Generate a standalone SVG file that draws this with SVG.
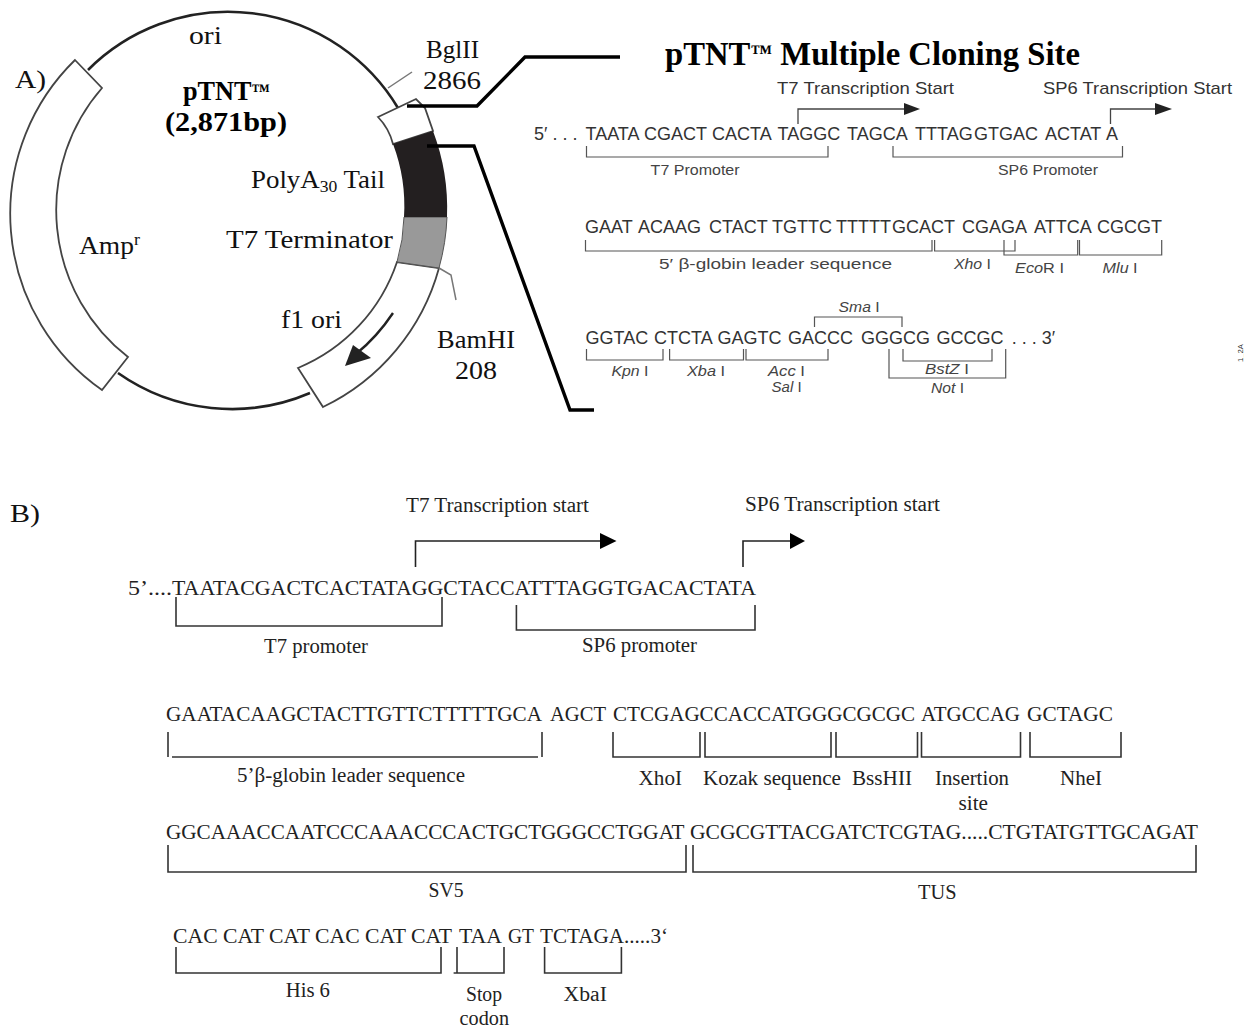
<svg xmlns="http://www.w3.org/2000/svg" width="1244" height="1028" viewBox="0 0 1244 1028">
<style>
text{white-space:pre}
.c{font-family:"Liberation Serif",serif;font-size:26px;fill:#111}
.b{font-weight:bold;font-size:27px;fill:#000}
.h{font-family:"Liberation Sans",Arial,sans-serif;font-size:17px;fill:#333}
.sq{font-size:18px}
.hs{font-size:15.5px;fill:#444}
.i{font-style:italic}
.t{font-family:"Liberation Serif",serif;font-size:21px;fill:#222}
.tl{font-size:20px}
.seg{fill:#fff;stroke:#444;stroke-width:1.8}
.bk{fill:none;stroke:#222;stroke-width:2.6}
.thin{fill:none;stroke:#777;stroke-width:1.5}
.call{fill:none;stroke:#000;stroke-width:3.4}
.br{fill:none;stroke:#555;stroke-width:1.2}
.brb{fill:none;stroke:#333;stroke-width:1.6}
.ar{fill:none;stroke:#444;stroke-width:1.3}
.arb{fill:none;stroke:#222;stroke-width:1.6}
</style>
<rect width="1244" height="1028" fill="#fff"/>
<g id="plasmid">
<g id="backbone">
<path class="bk" d="M88,70 A198 198 0 0 1 398,108"/>
<path class="bk" d="M118,373 A198 198 0 0 0 310,393"/>
</g>
<g id="amp"><path class="seg" d="M75,60 L102,88 A186 186 0 0 0 128,357 L102,390 A215 215 0 0 1 75,60 Z"/></g>
<g id="f1ori"><path class="seg" d="M397,262 A175 175 0 0 1 298,368 L323,407 A218 218 0 0 0 439,268 Z"/>
<path d="M393,313 Q377,337 356,354" fill="none" stroke="#222" stroke-width="2.4"/>
<polygon points="345,366 353,345 371,358" fill="#222"/></g>
<g id="t7term"><path d="M404,217 H447 A218 218 0 0 1 439,268 L397,262 A175 175 0 0 0 404,217 Z" fill="#999" stroke="#555" stroke-width="1"/></g>
<g id="mcs"><path class="seg" d="M378,117 L416,99 L425,108 L433,131 L393,144 A60 60 0 0 0 378,117 Z"/></g>
<g id="polya"><path d="M393,144 L433,131 A218 218 0 0 1 447,217 H404 A175 175 0 0 0 393,144 Z" fill="#231f20"/></g>
<path class="thin" d="M388,88 L412,72"/>
<path class="thin" d="M439,268 L451,275 L456,300"/>
</g>
<g id="plasmid-labels">
<text class="c" x="15" y="88" textLength="31" lengthAdjust="spacingAndGlyphs">A)</text>
<text class="c" x="189" y="44" textLength="33" lengthAdjust="spacingAndGlyphs">ori</text>
<text class="c" x="426" y="58" textLength="53" lengthAdjust="spacingAndGlyphs">BglII</text>
<text class="c" x="423" y="89" textLength="58" lengthAdjust="spacingAndGlyphs">2866</text>
<text class="c b" x="183" y="100" textLength="87" lengthAdjust="spacingAndGlyphs">pTNT<tspan font-size="19" dy="-3">™</tspan></text>
<text class="c b" x="165" y="131" textLength="122" lengthAdjust="spacingAndGlyphs">(2,871bp)</text>
<text class="c" x="251" y="188" textLength="134" lengthAdjust="spacingAndGlyphs">PolyA<tspan font-size="17" dy="4">30</tspan><tspan dy="-4"> Tail</tspan></text>
<text class="c" x="226" y="248" textLength="167" lengthAdjust="spacingAndGlyphs">T7 Terminator</text>
<text class="c" x="79" y="254" textLength="61" lengthAdjust="spacingAndGlyphs">Amp<tspan font-size="17" dy="-9">r</tspan></text>
<text class="c" x="281" y="328" textLength="61" lengthAdjust="spacingAndGlyphs">f1 ori</text>
<text class="c" x="437" y="348" textLength="78" lengthAdjust="spacingAndGlyphs">BamHI</text>
<text class="c" x="455" y="379" textLength="42" lengthAdjust="spacingAndGlyphs">208</text>
</g>
<g id="connectors">
<path class="call" d="M407,106 H477 L525,57 H620"/>
<path class="call" d="M427,146 H474 L570,410 H594"/>
<g id="mcs-connectors">
<path class="ar" d="M798,124 V109 H905"/><polygon points="920,109 904,103 904,115" fill="#222"/>
<path class="ar" d="M1110.5,124 V109 H1156"/><polygon points="1172,109 1155,103 1155,115" fill="#222"/>
<path class="br" d="M586.5,146 V157 H828 V146"/>
<path class="br" d="M893,146 V157 H1122.5 V146"/>
<path class="br" d="M585.5,240 V251 H932 V240"/>
<path class="br" d="M934.6,240 V251 H1015 V240"/>
<path class="br" d="M1004,240 V255 H1077.7 V240"/>
<path class="br" d="M1079.5,240 V255 H1161.7 V240"/>
<path class="br" d="M814.5,327 V317 H902 V327"/>
<path class="br" d="M586.5,349 V360 H663 V349"/>
<path class="br" d="M669.6,349 V360 H743.5 V349"/>
<path class="br" d="M746,349 V360 H828 V349"/>
<path class="br" d="M903,349 V361 H992 V349"/>
<path class="br" d="M889,349 V378 H1005.7 V349"/>
</g>
<g id="b-connectors">
<path class="arb" d="M415.5,567 V541 H601"/><polygon points="616.5,541 600,533 600,549" fill="#000"/>
<path class="arb" d="M743,567 V541 H791"/><polygon points="805,541 790,533 790,549" fill="#000"/>
<path class="brb" d="M176,597 V626 H442 V597"/>
<path class="brb" d="M516.4,605 V630 H755 V605"/>
<path class="brb" d="M168,732 V757 M172,757 H538 M542,732 V757"/>
<path class="brb" d="M613,732 V757 H700 V732"/>
<path class="brb" d="M705,732 V757 H831 V732"/>
<path class="brb" d="M836,732 V757 H917.5 V732"/>
<path class="brb" d="M921.5,732 V757 H1020.5 V732"/>
<path class="brb" d="M1030,732 V757 H1121 V732"/>
<path class="brb" d="M168,845 V872 H686 V845"/>
<path class="brb" d="M693,845 V872 H1196 V845"/>
<path class="brb" d="M176,947 V973 H441 V947"/>
<path class="brb" d="M457,947 V973 M453.6,973 H504 V947"/>
<path class="brb" d="M544.6,947 V973 H621.4 V947"/>
</g>
</g>
<g id="mcs-map">
<text x="665" y="65" font-family="'Liberation Serif',serif" font-weight="bold" font-size="33" fill="#000" textLength="415" lengthAdjust="spacingAndGlyphs">pTNT<tspan font-size="22" dy="-5">™</tspan><tspan dy="5"> Multiple Cloning Site</tspan></text>
<text class="h" x="777" y="94" textLength="177" lengthAdjust="spacingAndGlyphs">T7 Transcription Start</text>
<text class="h" x="1043" y="94" textLength="189" lengthAdjust="spacingAndGlyphs">SP6 Transcription Start</text>
<text class="h sq" y="140"><tspan x="534">5′ . . .</tspan><tspan x="585.5"> </tspan><tspan x="585.5">TAATA</tspan><tspan x="640"> </tspan><tspan x="644">CGACT</tspan><tspan x="708"> </tspan><tspan x="712">CACTA</tspan><tspan x="774"> </tspan><tspan x="777.6">TAGGC</tspan><tspan x="843"> </tspan><tspan x="847">TAGCA</tspan><tspan x="911"> </tspan><tspan x="915">TTTAG</tspan><tspan x="970"> </tspan><tspan x="974">GTGAC</tspan><tspan x="1041"> </tspan><tspan x="1045">ACTAT</tspan><tspan x="1102"> </tspan><tspan x="1106">A</tspan></text>
<text class="h hs" x="650.6" y="175" textLength="89" lengthAdjust="spacingAndGlyphs">T7 Promoter</text>
<text class="h hs" x="998" y="175" textLength="100" lengthAdjust="spacingAndGlyphs">SP6 Promoter</text>
<text class="h sq" y="233"><tspan x="585">GAAT</tspan><tspan x="634"> </tspan><tspan x="638">ACAAG</tspan><tspan x="705"> </tspan><tspan x="709">CTACT</tspan><tspan x="768"> </tspan><tspan x="772">TGTTC</tspan><tspan x="832"> </tspan><tspan x="836">TTTTT</tspan><tspan x="888"> </tspan><tspan x="892">GCACT</tspan><tspan x="958"> </tspan><tspan x="962">CGAGA</tspan><tspan x="1030"> </tspan><tspan x="1034">ATTCA</tspan><tspan x="1093"> </tspan><tspan x="1097">CGCGT</tspan></text>
<text class="h hs" x="659" y="269" textLength="233" lengthAdjust="spacingAndGlyphs">5′ β-globin leader sequence</text>
<text class="h hs" x="954" y="269" textLength="37" lengthAdjust="spacingAndGlyphs"><tspan class="i">Xho</tspan> I</text>
<text class="h hs" x="1015" y="273" textLength="49" lengthAdjust="spacingAndGlyphs"><tspan class="i">Eco</tspan>R I</text>
<text class="h hs" x="1102.6" y="273" textLength="35" lengthAdjust="spacingAndGlyphs"><tspan class="i">Mlu</tspan> I</text>
<text class="h hs" x="838.6" y="312" textLength="41" lengthAdjust="spacingAndGlyphs"><tspan class="i">Sma</tspan> I</text>
<text class="h sq" y="344"><tspan x="585.5">GGTAC</tspan><tspan x="650"> </tspan><tspan x="654">CTCTA</tspan><tspan x="713.6"> </tspan><tspan x="717.6">GAGTC</tspan><tspan x="784"> </tspan><tspan x="788">GACCC</tspan><tspan x="857"> </tspan><tspan x="861">GGGCG</tspan><tspan x="932"> </tspan><tspan x="936.4">GCCGC</tspan><tspan x="1007"> </tspan><tspan x="1011.7">. . . 3′</tspan></text>
<text class="h hs" x="611.4" y="376" textLength="37" lengthAdjust="spacingAndGlyphs"><tspan class="i">Kpn</tspan> I</text>
<text class="h hs" x="687" y="376" textLength="38" lengthAdjust="spacingAndGlyphs"><tspan class="i">Xba</tspan> I</text>
<text class="h hs" x="768" y="376" textLength="37" lengthAdjust="spacingAndGlyphs"><tspan class="i">Acc</tspan> I</text>
<text class="h hs" x="771.6" y="392" textLength="30" lengthAdjust="spacingAndGlyphs"><tspan class="i">Sal</tspan> I</text>
<text class="h hs" x="925" y="374" textLength="44" lengthAdjust="spacingAndGlyphs"><tspan class="i">BstZ</tspan> I</text>
<text class="h hs" x="931" y="393" textLength="33" lengthAdjust="spacingAndGlyphs"><tspan class="i">Not</tspan> I</text>
<text font-family="'Liberation Sans',sans-serif" font-size="7" fill="#333" transform="translate(1243,362) rotate(-90)" textLength="18" lengthAdjust="spacingAndGlyphs">1_2A</text>
</g>
<g id="construct">
<text class="c" x="10" y="522" textLength="30" lengthAdjust="spacingAndGlyphs">B)</text>
<text class="t tl" x="406" y="512" textLength="183" lengthAdjust="spacingAndGlyphs">T7 Transcription start</text>
<text class="t tl" x="745" y="511" textLength="195" lengthAdjust="spacingAndGlyphs">SP6 Transcription start</text>
<text class="t" x="128" y="595" textLength="44" lengthAdjust="spacingAndGlyphs">5’....</text>
<text class="t" x="172" y="595" textLength="584" lengthAdjust="spacingAndGlyphs">TAATACGACTCACTATAGGCTACCATTTAGGTGACACTATA</text>
<text class="t tl" x="264" y="653" textLength="104" lengthAdjust="spacingAndGlyphs">T7 promoter</text>
<text class="t tl" x="582" y="652" textLength="115" lengthAdjust="spacingAndGlyphs">SP6 promoter</text>
<text class="t" x="166" y="721" textLength="376" lengthAdjust="spacingAndGlyphs">GAATACAAGCTACTTGTTCTTTTTGCA</text>
<text class="t" x="550" y="721" textLength="56" lengthAdjust="spacingAndGlyphs">AGCT</text>
<text class="t" x="613" y="721" textLength="302" lengthAdjust="spacingAndGlyphs">CTCGAGCCACCATGGGCGCGC</text>
<text class="t" x="921" y="721" textLength="99" lengthAdjust="spacingAndGlyphs">ATGCCAG</text>
<text class="t" x="1027" y="721" textLength="86" lengthAdjust="spacingAndGlyphs">GCTAGC</text>
<text class="t tl" x="237" y="782" textLength="228" lengthAdjust="spacingAndGlyphs">5’β-globin leader sequence</text>
<text class="t tl" x="638.6" y="785" textLength="43.4" lengthAdjust="spacingAndGlyphs">XhoI</text>
<text class="t tl" x="703" y="785" textLength="138" lengthAdjust="spacingAndGlyphs">Kozak sequence</text>
<text class="t tl" x="852" y="785" textLength="60" lengthAdjust="spacingAndGlyphs">BssHII</text>
<text class="t tl" x="935" y="785" textLength="74" lengthAdjust="spacingAndGlyphs">Insertion</text>
<text class="t tl" x="958.5" y="810" textLength="29.5" lengthAdjust="spacingAndGlyphs">site</text>
<text class="t tl" x="1060" y="785" textLength="42" lengthAdjust="spacingAndGlyphs">NheI</text>
<text class="t" x="166" y="839" textLength="518.5" lengthAdjust="spacingAndGlyphs">GGCAAACCAATCCCAAACCCACTGCTGGGCCTGGAT</text>
<text class="t" x="690" y="839" textLength="508" lengthAdjust="spacingAndGlyphs">GCGCGTTACGATCTCGTAG.....CTGTATGTTGCAGAT</text>
<text class="t tl" x="428.6" y="897" textLength="35" lengthAdjust="spacingAndGlyphs">SV5</text>
<text class="t tl" x="918" y="899" textLength="38.5" lengthAdjust="spacingAndGlyphs">TUS</text>
<text class="t" x="173" y="943" textLength="279" lengthAdjust="spacingAndGlyphs">CAC CAT CAT CAC CAT CAT</text>
<text class="t" x="459" y="943" textLength="43" lengthAdjust="spacingAndGlyphs">TAA</text>
<text class="t" x="508" y="943" textLength="26" lengthAdjust="spacingAndGlyphs">GT</text>
<text class="t" x="540" y="943" textLength="128" lengthAdjust="spacingAndGlyphs">TCTAGA.....3‘</text>
<text class="t tl" x="285.7" y="997" textLength="44.3" lengthAdjust="spacingAndGlyphs">His 6</text>
<text class="t tl" x="466" y="1001" textLength="36" lengthAdjust="spacingAndGlyphs">Stop</text>
<text class="t tl" x="459.6" y="1025" textLength="49.4" lengthAdjust="spacingAndGlyphs">codon</text>
<text class="t tl" x="563.6" y="1001" textLength="43.4" lengthAdjust="spacingAndGlyphs">XbaI</text>
</g>
</svg>
